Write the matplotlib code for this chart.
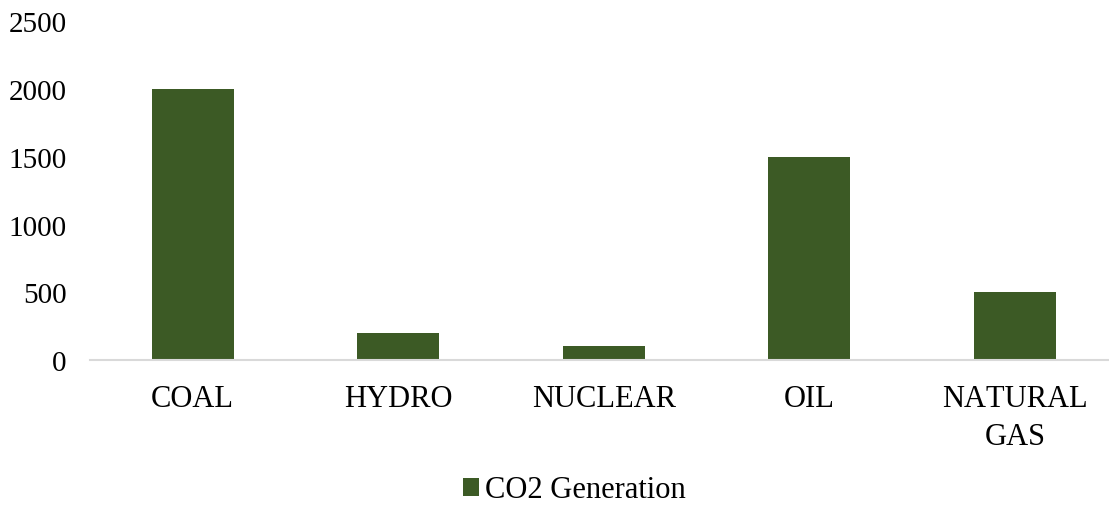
import matplotlib.pyplot as plt

plt.rcParams['font.family'] = ['Liberation Serif', 'DejaVu Serif']
# plain letter spacing, no pair kerning
plt.rcParams['text.kerning_factor'] = 16

sources = ["COAL", "HYDRO", "NUCLEAR", "OIL", "NATURAL\nGAS"]
co2 = [2000, 200, 100, 1500, 500]
series_name = "CO2 Generation"
y_ticks = [0, 500, 1000, 1500, 2000, 2500]

W, H = 1109, 506
fig = plt.figure(figsize=(W / 100, H / 100), dpi=100)
# plot area in pixels: left 90, bottom axis at 361, top (2500) at 22
ax = fig.add_axes([90 / W, 1 - 361 / H, (W - 90) / W, (361 - 22.3) / H])

x = list(range(len(sources)))
ax.bar(x, co2, width=0.4, color="#3C5A25", label=series_name, zorder=2)

ax.set_xlim(-0.5, (W - 90) / 205.5 - 0.5)
ax.set_ylim(0, 2500)
ax.set_yticks(y_ticks)
ax.set_xticks(x)
ax.set_xticklabels(sources, fontsize=22, linespacing=1.42)
ax.tick_params(axis="y", length=0, pad=17, labelsize=21)
ax.tick_params(axis="x", length=0, pad=17)

for side in ["top", "right", "left"]:
    ax.spines[side].set_visible(False)
ax.spines["bottom"].set_color("#D9D9D9")
ax.spines["bottom"].set_linewidth(1.5)

fig.legend(loc="center", bbox_to_anchor=(574 / W, 1 - 491 / H), frameon=False,
           fontsize=22, handlelength=0.52, handleheight=0.52, handletextpad=0.2,
           borderpad=0, borderaxespad=0)

plt.savefig("out.png", dpi=100)
